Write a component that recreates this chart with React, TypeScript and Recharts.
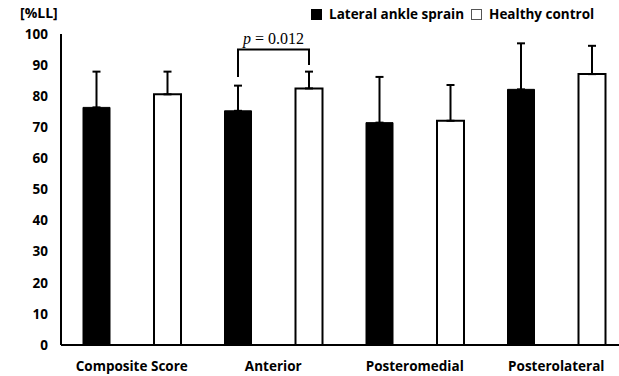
import React from 'react';
import { BarChart, Bar, XAxis, YAxis, ErrorBar } from 'recharts';

const categories = ['Composite Score', 'Anterior', 'Posteromedial', 'Posterolateral'];
const sprainMean = [76.4, 75.3, 71.5, 82.2];
const sprainSd = [11.5, 8.1, 14.7, 14.8];
const controlMean = [80.6, 82.5, 72.1, 87.1];
const controlSd = [7.3, 5.4, 11.5, 9.1];
const yTicks = [0, 10, 20, 30, 40, 50, 60, 70, 80, 90, 100];

// significance bracket for Anterior (index 1)
const sigIndex = 1;
const sigText = '0.012';
const bracketTop = 95;
const bracketLeftEnd = 86.2;
const bracketRightEnd = 90;

const BAR_SIZE = 27;
const BAR_GAP = 44;
const FONT = '"Open Sans", "Noto Sans CJK KR", sans-serif';

const data = categories.map((name, i) => ({
  name,
  sprain: sprainMean[i],
  sprainErr: [0, sprainSd[i]],
  control: controlMean[i],
  controlErr: [0, controlSd[i]],
}));

const SigBracket = (props: any) => {
  const { x, y, width, height, value, index } = props;
  if (index !== sigIndex || !value) return null;
  const px = Number(height) / Number(value);
  const base = Number(y) + Number(height);
  const yOf = (v: number) => base - v * px;
  const rightX = Number(x) + Number(width) / 2;
  const leftX = rightX - (BAR_SIZE + BAR_GAP);
  const topY = yOf(bracketTop);
  return (
    <g>
      <path
        d={`M${leftX},${yOf(bracketLeftEnd)} L${leftX},${topY} L${rightX},${topY} L${rightX},${yOf(bracketRightEnd)}`}
        fill="none"
        stroke="#000"
        strokeWidth={2}
      />
      <text
        x={(leftX + rightX) / 2}
        y={topY - 6}
        textAnchor="middle"
        fontFamily='"Liberation Serif", serif'
        fontSize={16}
        fill="#000"
      >
        <tspan fontStyle="italic">p</tspan> = {sigText}
      </text>
    </g>
  );
};

const LegendBox = () => (
  <div
    style={{
      position: 'absolute',
      left: 311,
      top: 5,
      display: 'flex',
      alignItems: 'center',
      fontFamily: FONT,
      fontWeight: 700,
      fontSize: 13.5,
      color: '#000',
      whiteSpace: 'nowrap',
    }}
  >
    <span style={{ width: 11, height: 11, background: '#000', display: 'inline-block', marginRight: 7 }} />
    <span>Lateral ankle sprain</span>
    <span
      style={{
        width: 9,
        height: 9,
        border: '1px solid #555',
        background: '#fff',
        display: 'inline-block',
        marginLeft: 7,
        marginRight: 7,
      }}
    />
    <span>Healthy control</span>
  </div>
);

export default function App() {
  return (
    <div style={{ position: 'absolute', left: 0, top: 0, width: 619, height: 376, overflow: 'hidden', background: '#fff' }}>
      <BarChart
        width={627}
        height={376}
        data={data}
        margin={{ top: 34, right: 0, bottom: 0, left: 0 }}
        barSize={BAR_SIZE}
        barGap={BAR_GAP}
      >
        <XAxis
          dataKey="name"
          height={31}
          axisLine={{ stroke: '#000', strokeWidth: 2 }}
          tickLine={false}
          tickSize={0}
          tickMargin={16}
          tick={{ fill: '#000', fontFamily: FONT, fontWeight: 700, fontSize: 13.5 }}
          interval={0}
        />
        <YAxis
          width={61}
          domain={[0, 100]}
          ticks={yTicks}
          axisLine={{ stroke: '#000', strokeWidth: 2 }}
          tickLine={false}
          tickSize={0}
          tickMargin={13}
          tick={{ fill: '#000', fontFamily: FONT, fontWeight: 700, fontSize: 13.5 }}
          label={(p: any) => (
            <text x={20} y={18} fontFamily={FONT} fontWeight={700} fontSize={14} fill="#000">
              [%LL]
            </text>
          )}
        />
        <Bar dataKey="sprain" fill="#000" stroke="#000" strokeWidth={1} isAnimationActive={false}>
          <ErrorBar dataKey="sprainErr" width={4} stroke="#000" strokeWidth={2} direction="y" />
        </Bar>
        <Bar dataKey="control" fill="#fff" stroke="#000" strokeWidth={2} isAnimationActive={false} label={<SigBracket />}>
          <ErrorBar dataKey="controlErr" width={4} stroke="#000" strokeWidth={2} direction="y" />
        </Bar>
      </BarChart>
      <LegendBox />
    </div>
  );
}
